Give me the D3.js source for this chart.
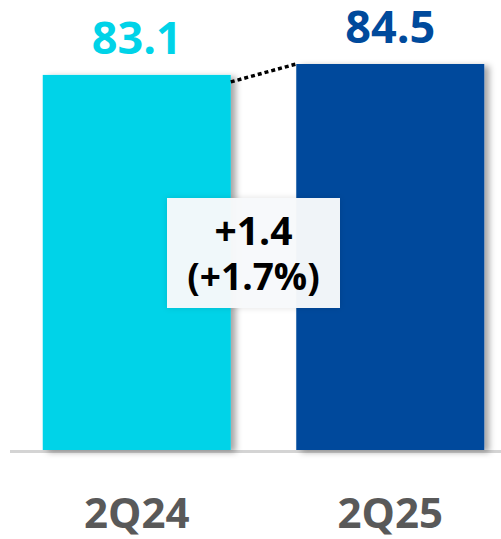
<!DOCTYPE html>
<html><head><meta charset="utf-8">
<script src="https://cdn.jsdelivr.net/npm/d3@7"></script>
<style>body{margin:0;background:#fff}svg{display:block}</style>
</head><body>
<script>
const categories = ["2Q24", "2Q25"];
const values = [83.1, 84.5];
const valueLabels = ["83.1", "84.5"];
const changeLabels = ["+1.4", "(+1.7%)"];
const colors = ["#00D3E8", "#004A9C"];

const W = 501, H = 539;
const svg = d3.select("body").append("svg").attr("width", W).attr("height", H);
const defs = svg.append("defs");
const sh = defs.append("filter").attr("id","sh").attr("x","-10%").attr("y","-10%").attr("width","130%").attr("height","130%");
sh.append("feDropShadow").attr("dx",5).attr("dy",2).attr("stdDeviation",3).attr("flood-color","#000").attr("flood-opacity",0.35);
const bs = defs.append("filter").attr("id","bs").attr("x","-20%").attr("y","-20%").attr("width","140%").attr("height","140%");
bs.append("feDropShadow").attr("dx",0).attr("dy",0).attr("stdDeviation",3).attr("flood-color","#000").attr("flood-opacity",0.12);

const x = d3.scaleBand().domain(categories).range([10, 517]).paddingInner(0.26).paddingOuter(0.13);
const y = d3.scaleLinear().domain([35, 84.5]).range([450, 64]);

// axis line
svg.append("line").attr("x1",10).attr("x2",W).attr("y1",451.5).attr("y2",451.5)
  .attr("stroke","#d4d4d4").attr("stroke-width",3);

const bw = 188;
const cx = c => x(c) + x.bandwidth()/2;
svg.selectAll("rect.bar").data(categories).enter().append("rect")
  .attr("class","bar")
  .attr("x", c => cx(c) - bw/2).attr("width", bw)
  .attr("y", (c,i) => y(values[i])).attr("height", (c,i) => 450 - y(values[i]))
  .attr("fill", (c,i) => colors[i]).attr("filter","url(#sh)");

// dotted connector
svg.append("line")
  .attr("x1", cx(categories[0]) + bw/2).attr("y1", y(values[0]) + 7)
  .attr("x2", cx(categories[1]) - bw/2).attr("y2", y(values[1]))
  .attr("stroke","#000").attr("stroke-width",3.5).attr("stroke-dasharray","4,3");

svg.selectAll("text.val").data(categories).enter().append("text")
  .attr("class","val").attr("x", cx).attr("y", (c,i) => y(values[i]) - 21)
  .attr("text-anchor","middle").attr("font-family","'Open Sans', sans-serif")
  .attr("font-weight",700).attr("font-size",45).attr("fill",(c,i)=>colors[i])
  .text((c,i)=>valueLabels[i]);

svg.selectAll("text.cat").data(categories).enter().append("text")
  .attr("class","cat").attr("x", cx).attr("y", 528)
  .attr("text-anchor","middle").attr("font-family","'Open Sans', sans-serif")
  .attr("font-weight",700).attr("font-size",42).attr("fill","#595959")
  .text(c=>c);

// change box
const mid = (cx(categories[0]) + cx(categories[1]))/2 - 10;
svg.append("rect").attr("x", mid-86.5).attr("y",198).attr("width",173).attr("height",110)
  .attr("fill","#f8f9fb").attr("fill-opacity",0.97).attr("filter","url(#bs)");
const ct = svg.append("text").attr("text-anchor","middle")
  .attr("font-family","'Open Sans', sans-serif").attr("font-weight",700).attr("fill","#000");
ct.append("tspan").attr("x",mid).attr("y",245).attr("font-size",39).text(changeLabels[0]);
ct.append("tspan").attr("x",mid).attr("y",290).attr("font-size",37).text(changeLabels[1]);
</script>
</body></html>
